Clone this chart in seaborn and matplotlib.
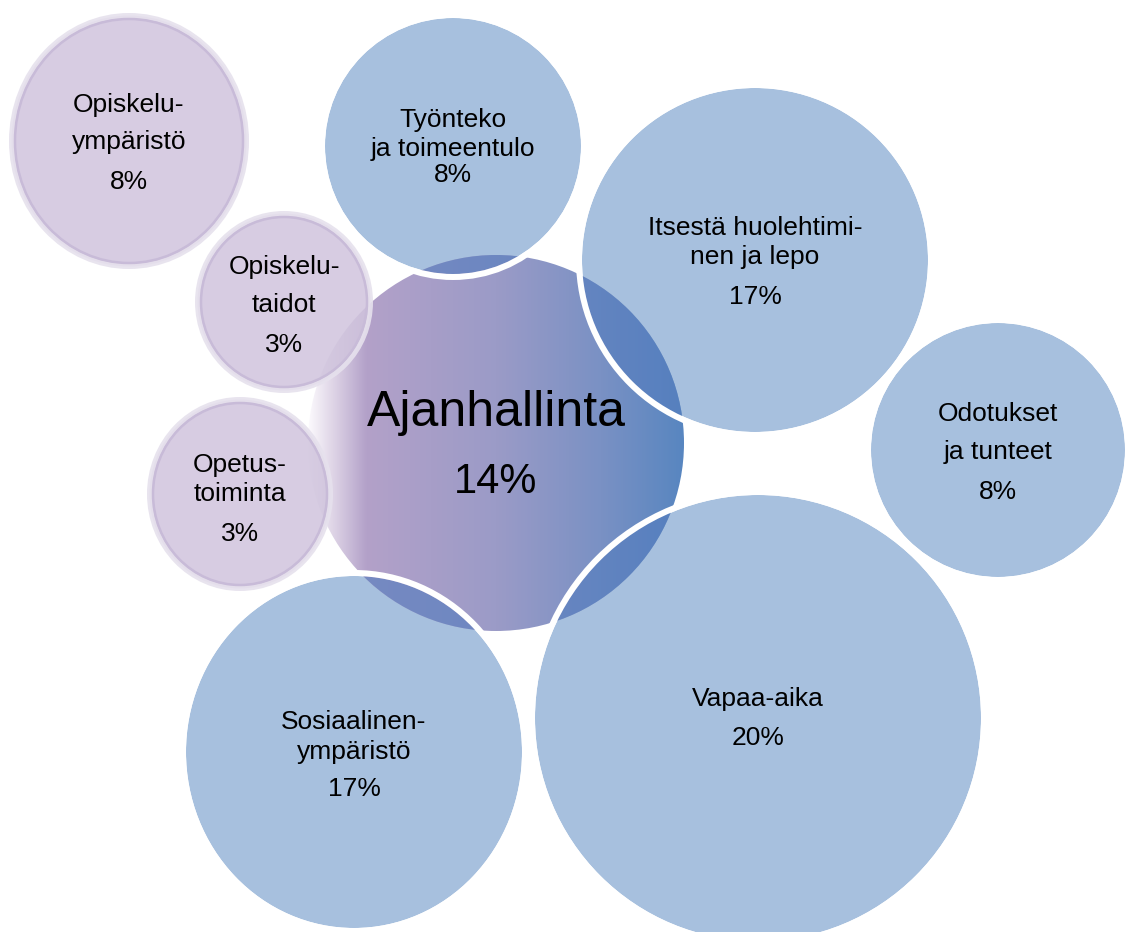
import numpy as np
import seaborn as sns
import matplotlib.pyplot as plt
from matplotlib.patches import Ellipse

# --- data -------------------------------------------------------------
labels = ["Opiskelu-\nympäristö", "Työnteko\nja toimeentulo", "Itsestä huolehtimi-\nnen ja lepo",
          "Opiskelu-\ntaidot", "Ajanhallinta", "Odotukset\nja tunteet", "Opetus-\ntoiminta",
          "Sosiaalinen-\nympäristö", "Vapaa-aika"]
shares = [8, 8, 17, 3, 14, 8, 3, 17, 20]
groups = ["opiskelu", "arki", "arki", "opiskelu", "keskus", "arki", "opiskelu", "arki", "arki"]

# --- layout (pixels, y grows downwards) --------------------------------
cx = [129, 453, 755, 284, 496, 998, 240, 354, 758]
cy = [141, 146, 260, 302, 443, 450, 494, 752, 718]
rx = [120, 128, 173, 89, 188, 127, 93, 168, 223]
ry = [128, 128, 172, 91, 188, 127, 97, 176, 223]
rows = [[103, 140, 180], [118, 147, 173], [226, 255, 295], [265, 303, 343], [408, 478],
        [412, 450, 490], [463, 492, 532], [720, 750, 787], [697, 736]]

sns.set_theme(style="white")
plt.rcParams['font.family'] = ['Liberation Sans', 'DejaVu Sans']

W, H = 1126, 932
PT = 0.72  # points per pixel at dpi 100

fig = plt.figure(figsize=(W / 100, H / 100), dpi=100)
ax = fig.add_axes([0, 0, 1, 1])
ax.set_xlim(0, W)
ax.set_ylim(H, 0)
ax.axis("off")

hub = groups.index("keskus")
hub_clip = Ellipse((cx[hub], cy[hub]), 2 * rx[hub], 2 * ry[hub], fc="none", ec="none")
ax.add_patch(hub_clip)

# gradient of the centre bubble: white fade on the left, purple to blue
x0, x1 = cx[hub] - rx[hub], cx[hub] + rx[hub]
xs = np.linspace(x0, x1, 400)
stops_x = [x0, x0 + 25, x0 + 58, cx[hub], cx[hub] + 105, x1]
stops_c = np.array([(252, 250, 253), (222, 212, 230), (179, 161, 201),
                    (155, 155, 199), (122, 145, 196), (88, 134, 192)]) / 255
grad = np.stack([np.interp(xs, stops_x, stops_c[:, k]) for k in range(3)], axis=-1)[None, :, :]
im = ax.imshow(grad, extent=(x0, x1, cy[hub] + ry[hub], cy[hub] - ry[hub]),
               interpolation="bilinear", aspect="auto", zorder=2)
im.set_clip_path(hub_clip)

blue = "#a7c0de"
purple_fill = (208 / 255, 196 / 255, 221 / 255, 0.85)
for i, g in enumerate(groups):
    if g == "arki":
        ax.add_patch(Ellipse((cx[i], cy[i]), 2 * rx[i], 2 * ry[i], fc=blue, ec="none", zorder=1))
        ov = Ellipse((cx[i], cy[i]), 2 * rx[i], 2 * ry[i], fc=(85 / 255, 125 / 255, 190 / 255, 0.65),
                     ec="none", zorder=3)
        ax.add_patch(ov)
        ov.set_clip_path(hub_clip)
        ax.add_patch(Ellipse((cx[i], cy[i]), 2 * (rx[i] + 3), 2 * (ry[i] + 3), fc="none",
                             ec="white", lw=6 * PT, zorder=4))
    elif g == "opiskelu":
        ax.add_patch(Ellipse((cx[i], cy[i]), 2 * (rx[i] - 2.5), 2 * (ry[i] - 2.5), fc=purple_fill,
                             ec=(230 / 255, 225 / 255, 237 / 255, 0.9), lw=5 * PT, zorder=5))
        ax.add_patch(Ellipse((cx[i], cy[i]), 2 * (rx[i] - 6), 2 * (ry[i] - 6), fc="none",
                             ec="#c8bbd8", lw=2.5 * PT, zorder=5))

# labels
for i, lab in enumerate(labels):
    lines = lab.split("\n") + [f"{shares[i]}%"]
    for j, (txt, y) in enumerate(zip(lines, rows[i])):
        if groups[i] == "keskus":
            size = 36 if j == 0 else 30
        else:
            size = 19
        base = y + 0.358 * size / PT
        ax.text(cx[i], base, txt, ha="center", va="baseline", fontsize=size,
                color="black", zorder=6)

fig.savefig("out.png", dpi=100)
